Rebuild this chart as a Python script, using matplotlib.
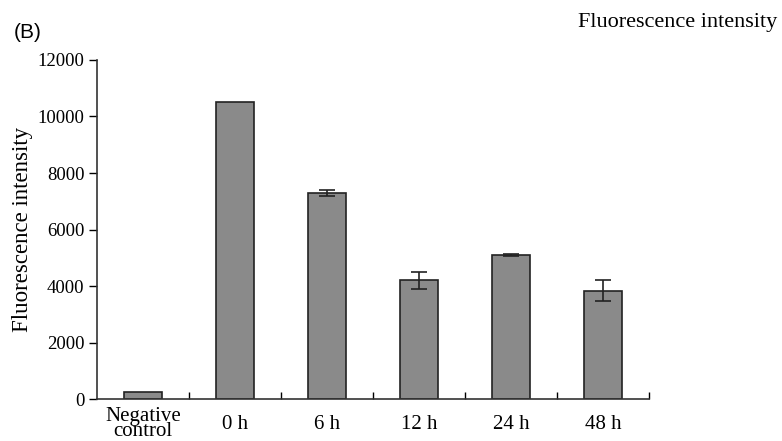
import numpy as np
import matplotlib.pyplot as plt

categories = ["Negative\ncontrol", "0 h", "6 h", "12 h", "24 h", "48 h"]
values = [260, 10500, 7300, 4200, 5100, 3830]
errors = [0, 0, 110, 300, 30, 370]
y_ticks = [0, 2000, 4000, 6000, 8000, 10000, 12000]

plt.rcParams['font.family'] = ['Liberation Serif', 'DejaVu Serif']

fig = plt.figure(figsize=(7.82, 4.41), dpi=100)
ax = fig.add_axes([0.124, 0.095, 0.706, 0.769])

x = np.arange(len(categories))
ax.bar(x, values, width=0.41, color="#8a8a8a", edgecolor="#222222", linewidth=1.2)
ax.errorbar(x[2:], values[2:], yerr=errors[2:], fmt="none", ecolor="#222222",
            elinewidth=1.2, capsize=6, capthick=1.2)

ax.set_xlim(-0.5, len(categories) - 0.5)
ax.set_ylim(0, 12000)
ax.set_yticks(y_ticks)
ax.set_yticklabels([str(t) for t in y_ticks], fontsize=13.5)
ax.set_xticks(x)
ax.set_xticklabels(categories, fontsize=15, linespacing=0.75)
plt.setp(ax.get_xticklabels(), va="center")
ax.tick_params(axis="x", length=0, pad=18)
ax.set_xticks(np.arange(0.5, len(categories), 1.0), minor=True)
ax.tick_params(axis="x", which="minor", direction="in", length=5, width=1)
ax.tick_params(axis="y", direction="out", length=6, width=1, pad=3)

for side in ["top", "right"]:
    ax.spines[side].set_visible(False)
for side in ["left", "bottom"]:
    ax.spines[side].set_linewidth(1.2)
    ax.spines[side].set_color("#333333")

ax.set_ylabel("Fluorescence intensity", fontsize=16.5, labelpad=3)

fig.text(0.017, 0.927, "(B)", fontsize=15, family="Liberation Sans", va="center")
fig.text(0.994, 0.95, "Fluorescence intensity", fontsize=16, ha="right", va="center")

fig.savefig("out.png", dpi=100)
